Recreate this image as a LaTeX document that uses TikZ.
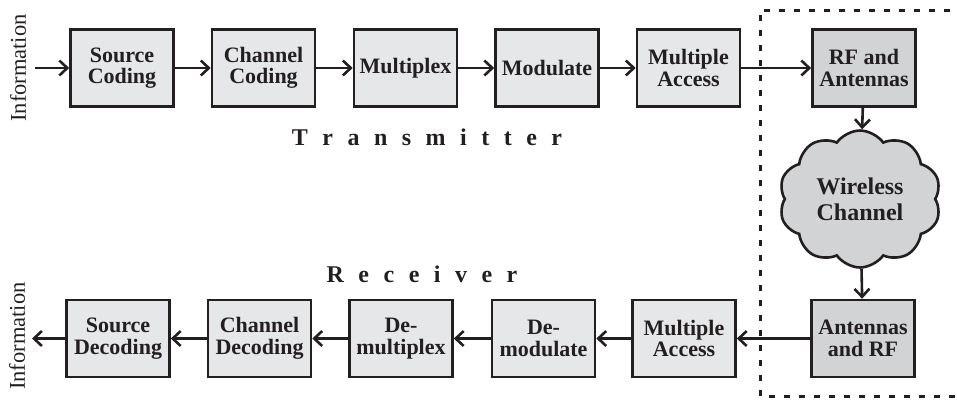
\documentclass[tikz,border=0pt]{standalone}
\usepackage{fontspec}
\setmainfont{Liberation Serif}
\usetikzlibrary{positioning, arrows.meta, shapes.symbols}
\usepackage{xcolor}
\definecolor{ink}{RGB}{35,31,32}
\definecolor{blockfill}{RGB}{230,231,232}
\definecolor{radiofill}{RGB}{209,211,212}
\newcommand{\lsp}{\hspace{14.5pt}}

\begin{document}
\begin{tikzpicture}[x=1pt, y=-1pt, >={Straight Barb[length=8pt,width=15pt]}]
  \tikzset{
    blk/.style={draw=ink, fill=blockfill, line width=2.6pt, minimum width=103pt,
                minimum height=77pt, align=center, inner sep=2pt, text=ink,
                font=\bfseries\fontsize{22}{21.5}\selectfont},
    radioblk/.style={blk, fill=radiofill},
    flow/.style={->, draw=ink, line width=2.6pt},
    info/.style={rotate=90, text=ink, font=\fontsize{22.5}{22.5}\selectfont},
    sidetitle/.style={anchor=base, text=ink, font=\bfseries\fontsize{24}{24}\selectfont}
  }
  \useasboundingbox (0,0) rectangle (957,400);
  % channel frame, open on the right
  \draw[ink, line width=3pt, dash pattern=on 6pt off 9pt]
    (965,10) -- (760,10) -- (760,396) -- (965,396);
  % transmitter chain
  \node[blk] (src) at (122,68) {Source\\Coding};
  \node[blk] (chc) at (263.5,68) {Channel\\Coding};
  \node[blk] (mux) at (405.5,68) {Multiplex};
  \node[blk] (mod) at (547,68) {Modulate};
  \node[blk] (txma) at (688.5,68) {Multiple\\Access};
  \node[radioblk] (rfa) at (864,68) {RF and\\Antennas};
  % wireless channel
  \node[cloud, cloud puffs=10, cloud puff arc=110, draw=ink, fill=radiofill, line width=2.6pt,
        inner sep=0pt, minimum width=162pt, minimum height=120pt, align=center, text=ink,
        font=\bfseries\fontsize{24}{26}\selectfont] (wch) at (860,199) {Wireless\\Channel};
  % receiver chain
  \node[radioblk] (arf) at (863,338.5) {Antennas\\and RF};
  \node[blk] (rxma) at (684,338.5) {Multiple\\Access};
  \node[blk] (dmd) at (543.5,338.5) {De-\\modulate};
  \node[blk] (dmx) at (401,338.5) {De-\\multiplex};
  \node[blk] (cdc) at (259.5,338.5) {Channel\\Decoding};
  \node[blk] (sdc) at (118,338.5) {Source\\Decoding};
  % labels
  \node[info] (infoin) at (18,68) {Information};
  \node[info] (infoout) at (17,336) {Information};
  \node[sidetitle] (txlabel) at (427,145) {T\lsp r\lsp a\lsp n\lsp s\lsp m\lsp i\lsp t\lsp t\lsp e\lsp r};
  \node[sidetitle] (rxlabel) at (422,282) {R\lsp e\lsp c\lsp e\lsp i\lsp v\lsp e\lsp r};
  % connectors
  \coordinate (srcin) at (35,68);
  \coordinate (sdcout) at (32,338.5);
  \draw[flow] (srcin) -- (src);
  \draw[flow] (src) -- (chc);
  \draw[flow] (chc) -- (mux);
  \draw[flow] (mux) -- (mod);
  \draw[flow] (mod) -- (txma);
  \draw[flow] (txma) -- (rfa);
  \draw[flow] (rfa) -- (wch);
  \draw[flow] (wch) -- (arf);
  \draw[flow] (arf) -- (rxma);
  \draw[flow] (rxma) -- (dmd);
  \draw[flow] (dmd) -- (dmx);
  \draw[flow] (dmx) -- (cdc);
  \draw[flow] (cdc) -- (sdc);
  \draw[flow] (sdc) -- (sdcout);
\end{tikzpicture}
\end{document}
